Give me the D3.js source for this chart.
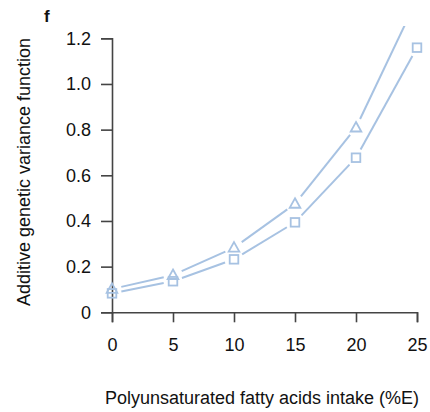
<!DOCTYPE html>
<html><head><meta charset="utf-8">
<script src="https://cdn.jsdelivr.net/npm/d3@7"></script>
<style>body{margin:0;background:#fff}svg{display:block}text{font-family:"Liberation Sans",Arial,sans-serif}</style>
</head><body>
<script>
const xValues = [0, 5, 10, 15, 20, 25];
const triangleSeries = [0.102, 0.163, 0.283, 0.475, 0.809, 1.37];
const squareSeries = [0.083, 0.136, 0.232, 0.394, 0.677, 1.159];
const xTicks = [0, 5, 10, 15, 20, 25];
const yTicks = [0, 0.2, 0.4, 0.6, 0.8, 1.0, 1.2];
const yTickLabels = ["0", "0.2", "0.4", "0.6", "0.8", "1.0", "1.2"];

const W = 430, H = 412;
const color = "#a7c2e2";
const axisColor = "#444";
const svg = d3.select("body").append("svg").attr("width", W).attr("height", H);
const x = d3.scaleLinear().domain([0, 25]).range([112, 417]);
const y = d3.scaleLinear().domain([0, 1.2]).range([312.3, 38.3]);

svg.append("defs").append("clipPath").attr("id", "clip")
  .append("rect").attr("x", 0).attr("y", 26).attr("width", W).attr("height", H - 26);

// axes
const yAxis = svg.append("g").attr("transform", `translate(${x(0)},0)`)
  .call(d3.axisLeft(y).tickValues(yTicks).tickFormat((d, i) => yTickLabels[i]).tickSize(11).tickPadding(10));
const xAxis = svg.append("g").attr("transform", `translate(0,${y(0)})`)
  .call(d3.axisBottom(x).tickValues(xTicks).tickSize(10).tickPadding(16));
[yAxis, xAxis].forEach(g => {
  g.select(".domain").attr("stroke", axisColor).attr("stroke-width", 1.6);
  g.selectAll(".tick line").attr("stroke", axisColor).attr("stroke-width", 1.6);
  g.selectAll(".tick text").attr("fill", "#111").style("font-size", "18px").style("font-family", '"Liberation Sans",Arial,sans-serif');
});

const plot = svg.append("g").attr("clip-path", "url(#clip)");
const gap = 9.5;
function drawSeries(vals, shape) {
  const pts = xValues.map((v, i) => [x(v), y(vals[i])]);
  for (let i = 0; i < pts.length - 1; i++) {
    const [x1, y1] = pts[i], [x2, y2] = pts[i + 1];
    const dx = x2 - x1, dy = y2 - y1, L = Math.hypot(dx, dy);
    const ux = dx / L, uy = dy / L;
    plot.append("line")
      .attr("x1", x1 + ux * gap).attr("y1", y1 + uy * gap)
      .attr("x2", x2 - ux * gap).attr("y2", y2 - uy * gap)
      .attr("stroke", color).attr("stroke-width", 2);
  }
  pts.forEach(([px, py]) => {
    if (shape === "square") {
      plot.append("rect").attr("x", px - 4.3).attr("y", py - 4.3).attr("width", 8.6).attr("height", 8.6)
        .attr("fill", "none").attr("stroke", color).attr("stroke-width", 1.8);
    } else {
      const r = 5.6;
      plot.append("path")
        .attr("d", `M${px},${py - r} L${px + r * 0.95},${py + r * 0.7} L${px - r * 0.95},${py + r * 0.7} Z`)
        .attr("fill", "none").attr("stroke", color).attr("stroke-width", 1.8);
    }
  });
}
drawSeries(triangleSeries, "triangle");
drawSeries(squareSeries, "square");

svg.append("text").attr("x", 262).attr("y", 404).attr("text-anchor", "middle")
  .style("font-size", "18px").attr("fill", "#111").text("Polyunsaturated fatty acids intake (%E)");
svg.append("text").attr("transform", `translate(30,${(30 + 314) / 2}) rotate(-90)`).attr("text-anchor", "middle")
  .style("font-size", "18px").attr("fill", "#111").text("Additive genetic variance function");
svg.append("text").attr("x", 44).attr("y", 22).style("font-size", "17px").style("font-weight", "bold")
  .attr("fill", "#111").text("f");
</script>
</body></html>
